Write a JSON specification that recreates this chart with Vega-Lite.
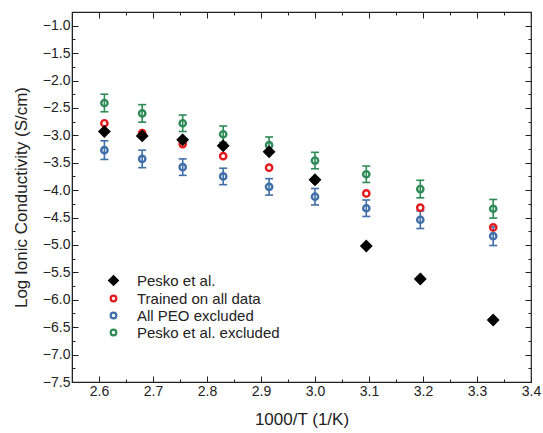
{
  "$schema": "https://vega.github.io/schema/vega-lite/v6.json",
  "width": 459,
  "height": 370,
  "autosize": {"type": "none"},
  "padding": {"left": 72, "top": 12, "right": 12, "bottom": 51},
  "background": "white",
  "config": {
    "view": {"stroke": "#222", "strokeWidth": 1.2},
    "font": "Liberation Sans",
    "axis": {"domainColor": "#222", "tickColor": "#222", "labelColor": "#222", "titleColor": "#222", "grid": false, "labelFont": "Liberation Sans", "titleFont": "Liberation Sans", "labelFontSize": 14, "titleFontSize": 17, "titleFontWeight": "normal"},
    "legend": {"orient": "none", "legendX": 34, "legendY": 261, "labelFontSize": 15, "labelColor": "#222", "labelFont": "Liberation Sans", "rowPadding": 1, "symbolStrokeWidth": 2.2, "symbolSize": 32, "labelOffset": 16}
  },
  "data": {"values": [
    {"x": 2.61, "y": -2.78, "series": "Trained on all data", "err": 0},
    {"x": 2.68, "y": -2.96, "series": "Trained on all data", "err": 0},
    {"x": 2.755, "y": -3.16, "series": "Trained on all data", "err": 0},
    {"x": 2.83, "y": -3.38, "series": "Trained on all data", "err": 0},
    {"x": 2.915, "y": -3.59, "series": "Trained on all data", "err": 0},
    {"x": 3.0, "y": -3.82, "series": "Trained on all data", "err": 0},
    {"x": 3.095, "y": -4.06, "series": "Trained on all data", "err": 0},
    {"x": 3.195, "y": -4.32, "series": "Trained on all data", "err": 0},
    {"x": 3.33, "y": -4.68, "series": "Trained on all data", "err": 0},
    {"x": 2.61, "y": -3.27, "series": "All PEO excluded", "err": 0.17},
    {"x": 2.68, "y": -3.43, "series": "All PEO excluded", "err": 0.16},
    {"x": 2.755, "y": -3.58, "series": "All PEO excluded", "err": 0.15},
    {"x": 2.83, "y": -3.75, "series": "All PEO excluded", "err": 0.15},
    {"x": 2.915, "y": -3.94, "series": "All PEO excluded", "err": 0.15},
    {"x": 3.0, "y": -4.12, "series": "All PEO excluded", "err": 0.15},
    {"x": 3.095, "y": -4.33, "series": "All PEO excluded", "err": 0.15},
    {"x": 3.195, "y": -4.54, "series": "All PEO excluded", "err": 0.16},
    {"x": 3.33, "y": -4.84, "series": "All PEO excluded", "err": 0.17},
    {"x": 2.61, "y": -2.41, "series": "Pesko et al. excluded", "err": 0.16},
    {"x": 2.68, "y": -2.60, "series": "Pesko et al. excluded", "err": 0.16},
    {"x": 2.755, "y": -2.78, "series": "Pesko et al. excluded", "err": 0.15},
    {"x": 2.83, "y": -2.98, "series": "Pesko et al. excluded", "err": 0.15},
    {"x": 2.915, "y": -3.18, "series": "Pesko et al. excluded", "err": 0.15},
    {"x": 3.0, "y": -3.46, "series": "Pesko et al. excluded", "err": 0.15},
    {"x": 3.095, "y": -3.71, "series": "Pesko et al. excluded", "err": 0.15},
    {"x": 3.195, "y": -3.98, "series": "Pesko et al. excluded", "err": 0.16},
    {"x": 3.33, "y": -4.34, "series": "Pesko et al. excluded", "err": 0.17},
    {"x": 2.61, "y": -2.93, "series": "Pesko et al.", "err": 0},
    {"x": 2.68, "y": -3.01, "series": "Pesko et al.", "err": 0},
    {"x": 2.755, "y": -3.08, "series": "Pesko et al.", "err": 0},
    {"x": 2.83, "y": -3.19, "series": "Pesko et al.", "err": 0},
    {"x": 2.915, "y": -3.30, "series": "Pesko et al.", "err": 0},
    {"x": 3.0, "y": -3.81, "series": "Pesko et al.", "err": 0},
    {"x": 3.095, "y": -5.02, "series": "Pesko et al.", "err": 0},
    {"x": 3.195, "y": -5.62, "series": "Pesko et al.", "err": 0},
    {"x": 3.33, "y": -6.37, "series": "Pesko et al.", "err": 0}
  ]},
  "transform": [
    {"calculate": "datum.y - datum.err", "as": "lo"},
    {"calculate": "datum.y + datum.err", "as": "hi"}
  ],
  "resolve": {"axis": {"x": "independent", "y": "independent"}},
  "layer": [
    {
      "transform": [{"filter": "datum.err > 0"}],
      "mark": {"type": "rule", "strokeWidth": 1.6},
      "encoding": {
        "x": {"field": "x", "type": "quantitative",
          "scale": {"domain": [2.55, 3.4], "nice": false, "zero": false},
          "axis": {"orient": "bottom", "title": "1000/T (1/K)",
            "values": [2.55, 2.6, 2.65, 2.7, 2.75, 2.8, 2.85, 2.9, 2.95, 3.0, 3.05, 3.1, 3.15, 3.2, 3.25, 3.3, 3.35, 3.4],
            "labelExpr": "abs(datum.value*10 - round(datum.value*10)) < 0.01 ? format(datum.value, '.1f') : ''",
            "tickSize": {"condition": {"test": "abs(datum.value*10 - round(datum.value*10)) < 0.01", "value": -6}, "value": -3},
            "labelPadding": 8, "titlePadding": 10, "labelFlush": false, "labelOverlap": false}},
        "y": {"field": "lo", "type": "quantitative",
          "scale": {"domain": [-7.5, -0.75], "nice": false, "zero": false},
          "axis": {"orient": "left", "title": "Log Ionic Conductivity (S/cm)",
            "values": [-7.5, -7.25, -7.0, -6.75, -6.5, -6.25, -6.0, -5.75, -5.5, -5.25, -5.0, -4.75, -4.5, -4.25, -4.0, -3.75, -3.5, -3.25, -3.0, -2.75, -2.5, -2.25, -2.0, -1.75, -1.5, -1.25, -1.0],
            "labelExpr": "abs(datum.value*2 - round(datum.value*2)) < 0.01 ? format(datum.value, '.1f') : ''",
            "tickSize": {"condition": {"test": "abs(datum.value*2 - round(datum.value*2)) < 0.01", "value": -6}, "value": -3},
            "labelPadding": 8, "titlePadding": 12, "labelFlush": false, "labelOverlap": false}},
        "y2": {"field": "hi"},
        "stroke": {"field": "series", "type": "nominal", "legend": {"title": null},
          "scale": {"domain": ["Pesko et al.", "Trained on all data", "All PEO excluded", "Pesko et al. excluded"], "range": ["#000000", "#e41a1c", "#3f6fa9", "#2e8b57"]}}
      }
    },
    {
      "transform": [{"filter": "datum.err > 0"}],
      "mark": {"type": "point", "shape": "M-1,0L1,0", "strokeWidth": 1.6, "size": 64, "opacity": 1},
      "encoding": {
        "x": {"field": "x", "type": "quantitative", "axis": null, "scale": {"domain": [2.55, 3.4], "nice": false, "zero": false}},
        "y": {"field": "lo", "type": "quantitative", "axis": null, "scale": {"domain": [-7.5, -0.75], "nice": false, "zero": false}},
        "stroke": {"field": "series", "type": "nominal", "legend": {"title": null}}
      }
    },
    {
      "transform": [{"filter": "datum.err > 0"}],
      "mark": {"type": "point", "shape": "M-1,0L1,0", "strokeWidth": 1.6, "size": 64, "opacity": 1},
      "encoding": {
        "x": {"field": "x", "type": "quantitative", "axis": null, "scale": {"domain": [2.55, 3.4], "nice": false, "zero": false}},
        "y": {"field": "hi", "type": "quantitative", "axis": null, "scale": {"domain": [-7.5, -0.75], "nice": false, "zero": false}},
        "stroke": {"field": "series", "type": "nominal", "legend": {"title": null}}
      }
    },
    {
      "mark": {"type": "point", "strokeWidth": 2.4, "opacity": 1, "size": 40},
      "encoding": {
        "x": {"field": "x", "type": "quantitative", "axis": null, "scale": {"domain": [2.55, 3.4], "nice": false, "zero": false}},
        "y": {"field": "y", "type": "quantitative", "axis": null, "scale": {"domain": [-7.5, -0.75], "nice": false, "zero": false}},
        "stroke": {"field": "series", "type": "nominal", "legend": {"title": null}},
        "fill": {"field": "series", "type": "nominal", "legend": {"title": null},
          "scale": {"domain": ["Pesko et al.", "Trained on all data", "All PEO excluded", "Pesko et al. excluded"], "range": ["#000000", "rgba(255,255,255,0)", "rgba(255,255,255,0)", "rgba(255,255,255,0)"]}},
        "shape": {"field": "series", "type": "nominal", "legend": {"title": null},
          "scale": {"domain": ["Pesko et al.", "Trained on all data", "All PEO excluded", "Pesko et al. excluded"], "range": ["M0,-1.5L1.5,0L0,1.5L-1.5,0Z", "circle", "circle", "circle"]}}
      }
    },
    {
      "mark": {"type": "point", "opacity": 0},
      "encoding": {
        "x": {"field": "x", "type": "quantitative", "scale": {"domain": [2.55, 3.4], "nice": false, "zero": false},
          "axis": {"orient": "top", "title": null, "labels": false, "domain": false,
            "values": [2.55, 2.6, 2.65, 2.7, 2.75, 2.8, 2.85, 2.9, 2.95, 3.0, 3.05, 3.1, 3.15, 3.2, 3.25, 3.3, 3.35, 3.4],
            "tickSize": {"condition": {"test": "abs(datum.value*10 - round(datum.value*10)) < 0.01", "value": -6}, "value": -3}}},
        "y": {"field": "y", "type": "quantitative", "scale": {"domain": [-7.5, -0.75], "nice": false, "zero": false},
          "axis": {"orient": "right", "title": null, "labels": false, "domain": false,
            "values": [-7.5, -7.25, -7.0, -6.75, -6.5, -6.25, -6.0, -5.75, -5.5, -5.25, -5.0, -4.75, -4.5, -4.25, -4.0, -3.75, -3.5, -3.25, -3.0, -2.75, -2.5, -2.25, -2.0, -1.75, -1.5, -1.25, -1.0],
            "tickSize": {"condition": {"test": "abs(datum.value*2 - round(datum.value*2)) < 0.01", "value": -6}, "value": -3}}}
      }
    }
  ]
}
